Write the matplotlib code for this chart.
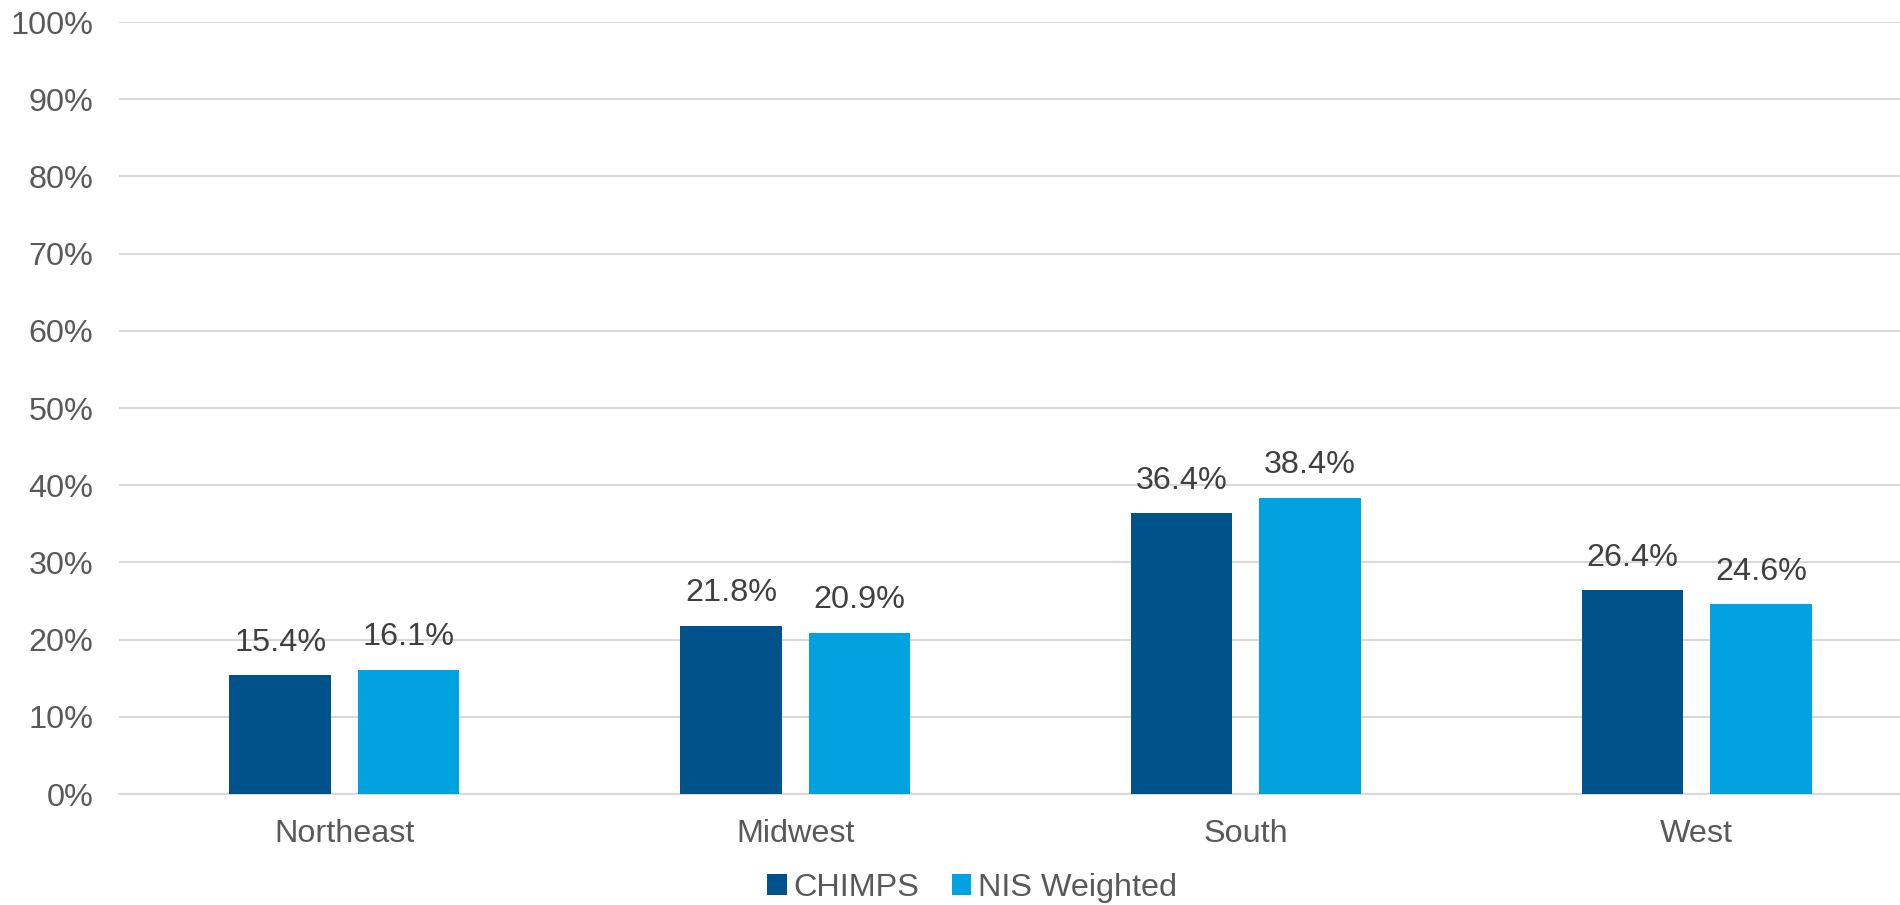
import matplotlib
matplotlib.use("Agg")
import matplotlib.pyplot as plt
from matplotlib.patches import Patch
from matplotlib.ticker import FuncFormatter
import numpy as np

regions = ["Northeast", "Midwest", "South", "West"]
series_names = ["CHIMPS", "NIS Weighted"]
chimps = [15.4, 21.8, 36.4, 26.4]
nis_weighted = [16.1, 20.9, 38.4, 24.6]
y_ticks = [0, 10, 20, 30, 40, 50, 60, 70, 80, 90, 100]

colors = ["#00538A", "#00A3E0"]
plt.rcParams["font.family"] = ["Liberation Sans", "DejaVu Sans"]
FS = 23.3

W, H = 1900, 905
fig = plt.figure(figsize=(W / 100, H / 100), dpi=100)
# plot area: left edge x=119, 0% at y=794, 100% at y=22; category band runs past the right edge
left, right = 119, 1922
top, bottom = 22, 794
ax = fig.add_axes([left / W, 1 - bottom / H, (right - left) / W, (bottom - top) / H])

x = np.arange(len(regions))
bw = 0.225
gap = 0.06
offsets = [-(bw + gap) / 2, (bw + gap) / 2]
for vals, off, col in zip([chimps, nis_weighted], offsets, colors):
    bars = ax.bar(x + off, vals, width=bw, color=col, zorder=3)
    for b, v in zip(bars, vals):
        ax.annotate(f"{v:.1f}%", (b.get_x() + b.get_width() / 2, v),
                    xytext=(0, 12.5), textcoords="offset points",
                    ha="center", va="bottom", fontsize=FS, color="#404040")

ax.set_xlim(-0.5, len(regions) - 0.5)
ax.set_ylim(0, 100)
ax.set_yticks(y_ticks)
ax.yaxis.set_major_formatter(FuncFormatter(lambda v, p: f"{v:.0f}%"))
ax.set_xticks(x)
ax.set_xticklabels(regions)
ax.tick_params(axis="y", length=0, pad=18.5, labelsize=FS, labelcolor="#595959")
ax.tick_params(axis="x", length=0, pad=18, labelsize=FS, labelcolor="#595959")
ax.grid(axis="y", color="#D9D9D9", linewidth=1.5, zorder=0)
for s in ["top", "right", "left"]:
    ax.spines[s].set_visible(False)
ax.spines["bottom"].set_color("#D9D9D9")
ax.spines["bottom"].set_linewidth(1.5)

handles = [Patch(facecolor=c, edgecolor="none") for c in colors]
fig.legend(handles, series_names, loc="center", bbox_to_anchor=(972 / W, 1 - 888 / H),
           ncol=2, frameon=False, fontsize=FS, labelcolor="#595959",
           handlelength=0.6, handleheight=0.6, handletextpad=0.2, columnspacing=1.0)

fig.savefig("out.png", dpi=100, facecolor="white")
